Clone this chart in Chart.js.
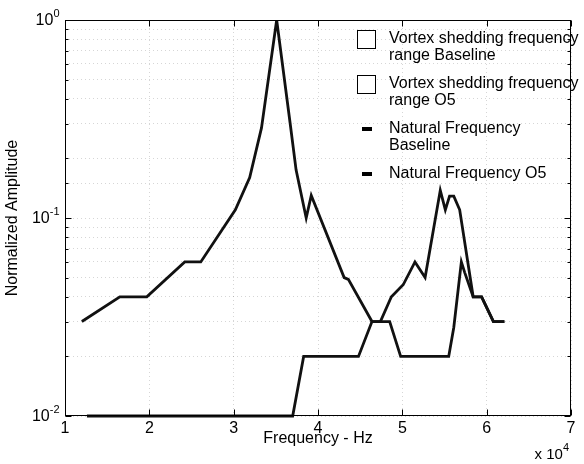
<!DOCTYPE html>
<html>
<head>
<meta charset="utf-8">
<title>Normalized Amplitude</title>
<script src="https://cdn.jsdelivr.net/npm/chart.js@4.4.0/dist/chart.umd.min.js"></script>
<style>
    html, body { margin: 0; padding: 0; background: #fff; }
    #wrap { width: 584px; height: 464px; }
</style>
</head>
<body>
<div id="wrap"><canvas id="ampChart" width="584" height="464"></canvas></div>
<script>
// frequency in units of 10^4 Hz, amplitude normalized to the highest peak
var freqBaseline = [1.20, 1.65, 1.97, 2.42, 2.61, 3.02, 3.19, 3.33, 3.51, 3.67, 3.74, 3.86, 3.92, 4.31, 4.36, 4.64, 4.85, 4.98, 5.55, 5.61, 5.70, 5.74, 5.84, 5.94, 6.08, 6.21];
var ampBaseline  = [0.030, 0.040, 0.040, 0.060, 0.060, 0.110, 0.160, 0.285, 1.000, 0.300, 0.175, 0.100, 0.130, 0.050, 0.049, 0.030, 0.030, 0.020, 0.020, 0.028, 0.060, 0.053, 0.040, 0.040, 0.030, 0.030];

var freqO5 = [1.26, 3.70, 3.83, 4.48, 4.64, 4.74, 4.87, 5.01, 5.15, 5.27, 5.45, 5.51, 5.56, 5.61, 5.68, 5.84, 5.94, 6.08, 6.21];
var ampO5  = [0.010, 0.010, 0.020, 0.020, 0.030, 0.030, 0.040, 0.046, 0.060, 0.050, 0.138, 0.110, 0.129, 0.129, 0.110, 0.040, 0.040, 0.030, 0.030];

var xTickValues = [1, 2, 3, 4, 5, 6, 7];
var yDecades = [0.01, 0.1, 1];
var yExponents = ['-2', '-1', '0'];

var legendLabels = [
    ['Vortex shedding frequency', 'range Baseline'],
    ['Vortex shedding frequency', 'range O5'],
    ['Natural Frequency', 'Baseline'],
    ['Natural Frequency O5']
];
var legendMarkers = ['box', 'box', 'dash', 'dash'];

var FONT = '"Liberation Sans", Arial, Helvetica, sans-serif';
var GRID = 'rgba(0,0,0,0.16)';

function toPoints(xs, ys) {
    return xs.map(function (x, i) { return {x: x, y: ys[i]}; });
}

// frame, inward ticks, power-of-ten labels and the legend
var axesDecor = {
    id: 'axesDecor',
    afterDraw: function (chart) {
        var ctx = chart.ctx;
        var a = chart.chartArea;
        var xs = chart.scales.x;
        var ys = chart.scales.y;
        var L = Math.round(a.left) + 0.5, R = Math.round(a.right) - 0.5;
        var T = Math.round(a.top) + 0.5, B = Math.round(a.bottom) - 0.5;

        ctx.save();
        ctx.strokeStyle = '#000';
        ctx.lineWidth = 1;
        ctx.strokeRect(L, T, R - L, B - T);

        ctx.beginPath();
        ys.ticks.forEach(function (t) {
            var py = Math.round(ys.getPixelForValue(t.value)) + 0.5;
            var len = yDecades.indexOf(t.value) >= 0 ? 6 : 3;
            ctx.moveTo(L, py); ctx.lineTo(L + len, py);
            ctx.moveTo(R, py); ctx.lineTo(R - len, py);
        });
        xTickValues.forEach(function (v) {
            var px = Math.round(xs.getPixelForValue(v)) + 0.5;
            ctx.moveTo(px, B); ctx.lineTo(px, B - 6);
            ctx.moveTo(px, T); ctx.lineTo(px, T + 6);
        });
        ctx.stroke();

        // y labels as 10 with a raised exponent
        ctx.fillStyle = '#000';
        ctx.textBaseline = 'middle';
        ctx.textAlign = 'right';
        yDecades.forEach(function (v, i) {
            var py = ys.getPixelForValue(v);
            ctx.font = '11px ' + FONT;
            var ew = ctx.measureText(yExponents[i]).width;
            var right = L - 6;
            ctx.fillText(yExponents[i], right, py - 6);
            ctx.font = '16px ' + FONT;
            ctx.fillText('10', right - ew, py + 1);
        });

        // x multiplier under the last tick
        ctx.textAlign = 'right';
        ctx.font = '11px ' + FONT;
        ctx.fillText('4', 569, 448);
        var w4 = ctx.measureText('4').width;
        ctx.font = '15px ' + FONT;
        ctx.fillText('x 10', 569 - w4, 455);

        // legend
        ctx.textAlign = 'left';
        ctx.font = '16px ' + FONT;
        var y = 39;
        legendLabels.forEach(function (lines, i) {
            if (legendMarkers[i] === 'box') {
                ctx.fillStyle = '#fff';
                ctx.fillRect(357.5, y - 8.5, 18, 18);
                ctx.strokeStyle = '#000';
                ctx.strokeRect(357.5, y - 8.5, 18, 18);
            } else {
                ctx.fillStyle = '#000';
                ctx.fillRect(362, y - 2, 10, 4);
            }
            ctx.fillStyle = '#000';
            lines.forEach(function (txt, k) {
                ctx.fillText(txt, 389, y + k * 17);
            });
            y += lines.length * 17 + 11;
        });
        ctx.restore();
    }
};

// keep the flat 0.01 run fully visible but cut the main peak at the frame
var lineClip = {left: 4, top: 0, right: 4, bottom: 4};

var ctx = document.getElementById('ampChart').getContext('2d');
var ampChart = new Chart(ctx, {
    type: 'line',
    data: {
        datasets: [{
            label: 'Baseline',
            data: toPoints(freqBaseline, ampBaseline),
            borderColor: '#111',
            borderWidth: 2.8,
            pointRadius: 0,
            tension: 0,
            fill: false,
            clip: lineClip
        }, {
            label: 'O5',
            data: toPoints(freqO5, ampO5),
            borderColor: '#111',
            borderWidth: 2.8,
            pointRadius: 0,
            tension: 0,
            fill: false,
            clip: lineClip
        }]
    },
    options: {
        responsive: false,
        animation: false,
        devicePixelRatio: 1,
        layout: {padding: {top: 20, right: 13, left: 0, bottom: 0}},
        plugins: {
            legend: {display: false},
            tooltip: {enabled: false}
        },
        scales: {
            x: {
                type: 'linear',
                min: 1,
                max: 7,
                afterFit: function (scale) { scale.height = 48; },
                ticks: {
                    stepSize: 1,
                    color: '#000',
                    padding: 3,
                    font: {family: FONT, size: 16}
                },
                grid: {color: GRID, drawTicks: false},
                border: {display: false, dash: [1, 3]},
                title: {
                    display: true,
                    text: 'Frequency - Hz',
                    color: '#000',
                    font: {family: FONT, size: 16},
                    padding: {top: 0, bottom: 16}
                }
            },
            y: {
                type: 'logarithmic',
                min: 0.01,
                max: 1,
                afterFit: function (scale) { scale.width = 65; },
                ticks: {display: false},
                grid: {color: GRID, drawTicks: false},
                border: {display: false, dash: [1, 3]},
                title: {
                    display: true,
                    text: 'Normalized Amplitude',
                    color: '#000',
                    font: {family: FONT, size: 16},
                    padding: {top: 3, bottom: 0}
                }
            }
        }
    },
    plugins: [axesDecor]
});
</script>
</body>
</html>
